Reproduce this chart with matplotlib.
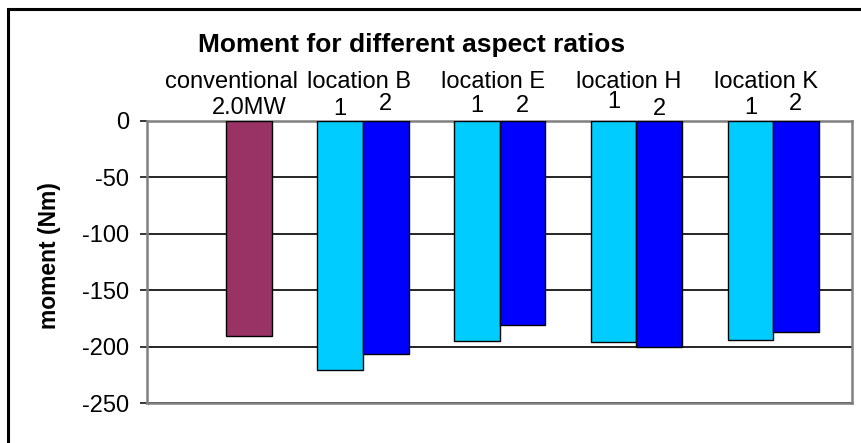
import numpy as np
import matplotlib
matplotlib.use("Agg")
import matplotlib.pyplot as plt
from matplotlib.patches import Rectangle
import matplotlib.transforms as mtransforms

plt.rcParams['font.family'] = ['Liberation Sans', 'DejaVu Sans']
plt.rcParams['axes.unicode_minus'] = False

# ---- data ----
categories = ["conventional", "location B", "location E", "location H", "location K"]
series1_labels = ["", "1", "1", "1", "1"]
series2_labels = ["2.0MW", "2", "2", "2", "2"]
series1 = [np.nan, -221, -195, -196, -194]
series2 = [-191, -207, -181, -200, -187]
yticks = [0, -50, -100, -150, -200, -250]
title = "Moment for different aspect ratios"
ylabel = "moment (Nm)"

# ---- style ----
c_light = "#00CCFF"
c_dark = "#0000FF"
c_conv = "#993366"
series2_colors = [c_conv, c_dark, c_dark, c_dark, c_dark]

W, H = 862, 443
fig = plt.figure(figsize=(W / 100, H / 100), dpi=100)
L, R, T, B = 147, 852, 120.7, 403
ax = fig.add_axes([L / W, 1 - B / H, (R - L) / W, (B - T) / H])

x = np.arange(len(categories))
bw = 0.333
ax.bar(x - bw / 2, series1, width=bw, color=c_light, edgecolor="black", linewidth=1.0, zorder=3)
ax.bar(x + bw / 2, series2, width=bw, color=series2_colors, edgecolor="black", linewidth=1.0, zorder=3)

ax.set_xlim(-0.580, 4.577)
ax.set_ylim(-250, 0)
ax.set_yticks(yticks)
ax.set_yticklabels([str(v) for v in yticks])
ax.set_xticks([])
ax.tick_params(axis='y', direction='out', length=5, width=1.1, color='black', pad=8, labelsize=17)

ax.set_axisbelow(True)
ax.yaxis.grid(True, color='black', linewidth=1.2)
for s in ax.spines.values():
    s.set_color('#808080')
    s.set_linewidth(1.8)

ax.set_ylabel(ylabel, fontsize=16.5, fontweight='bold')
ax.yaxis.set_label_coords((61 - L) / (R - L), 0.524)

# top labels
trans = mtransforms.blended_transform_factory(ax.transData, ax.transAxes)
def yb(pix):
    return (B - pix) / (B - T)

cat_dx = [0.04, -0.03, -0.05, -0.06, -0.05]
for i, c in enumerate(categories):
    ax.text(x[i] + cat_dx[i], yb(88.5), c, transform=trans, ha='center', va='baseline',
            fontsize=17, clip_on=False)

s1_base = [None, 115, 111.5, 108.5, 114]
s2_base = [113.5, 109.5, 111.5, 115, 109.5]
for i in range(len(categories)):
    if series1_labels[i]:
        ax.text(x[i] - bw / 2, yb(s1_base[i]), series1_labels[i], transform=trans,
                ha='center', va='baseline', fontsize=17, clip_on=False)
    ax.text(x[i] + bw / 2, yb(s2_base[i]), series2_labels[i], transform=trans,
            ha='center', va='baseline', fontsize=17, clip_on=False)

fig.text(412 / W, 1 - 52 / H, title, ha='center', va='baseline', fontsize=19, fontweight='bold')

fig.add_artist(Rectangle((8 / W, -0.2), 2, 1 - 9 / H + 0.2, transform=fig.transFigure,
                         fill=False, edgecolor='black', linewidth=2.2))

fig.savefig("out.png", dpi=100)
